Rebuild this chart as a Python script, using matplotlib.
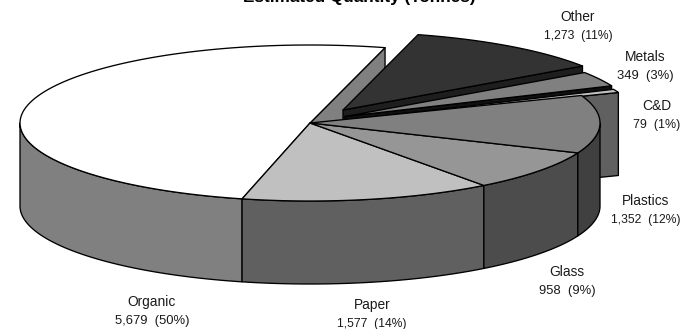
import numpy as np
import matplotlib
matplotlib.use("Agg")
import matplotlib.pyplot as plt
from matplotlib.patches import Polygon

categories = ["Organic", "Paper", "Glass", "Plastics", "C&D", "Metals", "Other"]
values = [5679, 1577, 958, 1352, 79, 349, 1273]
value_labels = ["5,679", "1,577", "958", "1,352", "79", "349", "1,273"]
percent_labels = ["50%", "14%", "9%", "12%", "1%", "3%", "11%"]
title = "Estimated Quantity (Tonnes)"

top_colors = ["#ffffff", "#c0c0c0", "#969696", "#808080", "#c0c0c0", "#808080", "#333333"]
wall_colors = ["#808080", "#606060", "#4c4c4c", "#404040", None, None, None]
cut_colors = {4: "#606060", 5: "#101010", 6: "#1e1e1e"}
offsets = {4: (37, -3), 5: (35, -6.5), 6: (33, -13)}
label_xy = [(152, 302), (372, 305), (567, 272), (646, 201), (657, 106), (645, 57), (578, 17)]
value_sizes = [9.4, 8.7, 9.4, 8.7, 8.9, 9.4, 8.7]

CX, CY, RX, RY, DEPTH, START = 310, 123, 290, 78, 83, 75.0

fig = plt.figure(figsize=(6.82, 3.29), dpi=100)
ax = fig.add_axes([0, 0, 1, 1])
ax.set_xlim(0, 682)
ax.set_ylim(329, 0)
ax.axis("off")

plt.rcParams["font.family"] = ["Liberation Sans", "DejaVu Sans"]

sweeps = 360 * np.array(values) / np.sum(values)
ends = START + np.cumsum(sweeps)
starts = ends - sweeps
LW = 0.95


def arc(t1, t2, cx=CX, cy=CY):
    t = np.radians(np.linspace(t1, t2, 120))
    return np.column_stack([cx + RX * np.cos(t), cy - RY * np.sin(t)])


def poly(points, color, lw=LW):
    ax.add_patch(Polygon(points, closed=True, facecolor=color, edgecolor="black",
                         linewidth=lw, joinstyle="round"))


def top(i):
    ox, oy = offsets.get(i, (0, 0))
    cx, cy = CX + ox, CY + oy
    poly(np.vstack([[cx, cy], arc(starts[i], ends[i], cx, cy)]), top_colors[i])


def cut(i, angle, color):
    ox, oy = offsets.get(i, (0, 0))
    cx, cy = CX + ox, CY + oy
    p = arc(angle, angle, cx, cy)[0]
    poly([[cx, cy], p, [p[0], p[1] + DEPTH], [cx, cy + DEPTH]], color)


# Back cut face of the large slice
cut(0, starts[0], "#808080")

# Exploded slices at the back, farthest first
for i in (6, 5, 4):
    cut(i, starts[i], cut_colors[i])
    top(i)

# Outer walls of the front slices
for i in range(4):
    t1 = max(starts[i], 180)
    t2 = min(ends[i], 360)
    if t2 > t1:
        a = arc(t1, t2)
        b = a[::-1] + np.array([0, DEPTH])
        poly(np.vstack([a, b]), wall_colors[i])

# Top faces of the main pie
for i in range(4):
    top(i)

# Labels
for i, (x, y) in enumerate(label_xy):
    ax.text(x, y, categories[i], ha="center", va="center", fontsize=9.9, color="#1a1a1a")
    ax.text(x, y + 19, f"{value_labels[i]}  ({percent_labels[i]})", ha="center",
            va="center", fontsize=value_sizes[i], color="#1a1a1a")

ax.text(359, 2, title, ha="center", va="baseline", fontsize=12.3, fontweight="bold",
        color="black")

fig.savefig("out.png", dpi=100, facecolor="white")
